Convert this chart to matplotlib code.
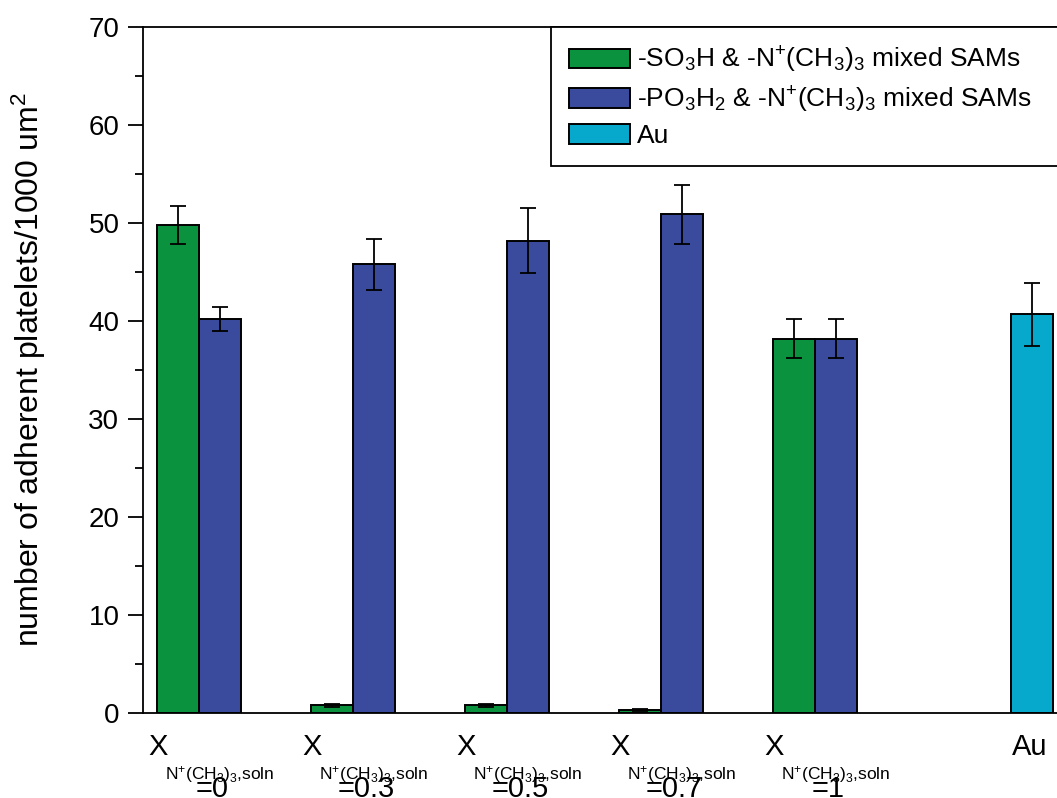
import matplotlib
matplotlib.use("Agg")
import matplotlib.pyplot as plt
import numpy as np

plt.rcParams['font.family'] = ['Liberation Sans', 'DejaVu Sans']
plt.rcParams['mathtext.fontset'] = 'custom'
plt.rcParams['mathtext.rm'] = 'Liberation Sans'
plt.rcParams['mathtext.it'] = 'Liberation Sans:italic'
plt.rcParams['mathtext.bf'] = 'Liberation Sans:bold'

# ---- data ----
x_values = ["=0", "=0.3", "=0.5", "=0.7", "=1"]
green_vals = [49.8, 0.8, 0.8, 0.35, 38.2]
green_err = [1.9, 0.15, 0.15, 0.1, 2.0]
blue_vals = [40.2, 45.8, 48.2, 50.9, 38.2]
blue_err = [1.2, 2.6, 3.3, 3.0, 2.0]
au_val = [40.7]
au_err = [3.2]
legend_labels = [r"-SO$_3$H & -N$^{+}$(CH$_3$)$_3$ mixed SAMs",
                 r"-PO$_3$H$_2$ & -N$^{+}$(CH$_3$)$_3$ mixed SAMs",
                 "Au"]
ylabel = r"number of adherent platelets/1000 um$^2$"

c_green = "#0a923f"
c_blue = "#3a4a9d"
c_au = "#06a9cc"

W, H = 1057, 798
fig = plt.figure(figsize=(W / 100, H / 100), dpi=100)
ax = fig.add_axes([143 / W, 85 / H, (1067 - 143) / W, 686 / H])

w = 42 / 154
xi = np.arange(len(x_values))
ekw = dict(ecolor="black", elinewidth=1.3, capsize=5.5, capthick=1.3)
ax.bar(xi - w, green_vals, w, yerr=green_err, color=c_green,
       edgecolor="black", linewidth=1.4, error_kw=ekw, label=legend_labels[0])
ax.bar(xi, blue_vals, w, yerr=blue_err, color=c_blue,
       edgecolor="black", linewidth=1.4, error_kw=ekw, label=legend_labels[1])
au_x = len(x_values) + w
ax.bar([au_x], au_val, w, yerr=au_err, color=c_au,
       edgecolor="black", linewidth=1.4, error_kw=ekw, label=legend_labels[2])

ax.set_xlim(-0.5, 5.5)
ax.set_ylim(0, 70)
ax.set_yticks(np.arange(0, 71, 10))
ax.set_yticks(np.arange(5, 70, 10), minor=True)
ax.tick_params(axis='y', which='major', direction='out', length=11, width=1.3,
               labelsize=20, pad=6)
ax.tick_params(axis='y', which='minor', direction='out', length=6, width=1.3)
ax.set_xticks([])
for s in ['left', 'bottom', 'top']:
    ax.spines[s].set_linewidth(1.3)
ax.spines['right'].set_visible(False)

ax.set_ylabel(ylabel, fontsize=23)
ax.yaxis.set_label_coords((48 - 143) / 924, 0.5)

# x category labels
trans = ax.get_xaxis_transform()
for i, v in enumerate(x_values):
    ax.annotate("X", xy=(i, 0), xycoords=trans, xytext=(-72, -42),
                textcoords='offset pixels', ha='left', va='baseline', fontsize=21)
    ax.annotate(r"N$^{+}$(CH$_3$)$_3$,soln", xy=(i, 0), xycoords=trans,
                xytext=(-55, -66), textcoords='offset pixels', ha='left',
                va='baseline', fontsize=12.5)
    ax.annotate(v, xy=(i, 0), xycoords=trans, xytext=(-8, -84),
                textcoords='offset pixels', ha='center', va='baseline', fontsize=21)
ax.annotate("Au", xy=(au_x, 0), xycoords=trans, xytext=(-2, -42),
            textcoords='offset pixels', ha='center', va='baseline', fontsize=21)

leg = ax.legend(loc='upper left',
                bbox_to_anchor=(551 / W, 1 - 27 / H, 600 / W, 0),
                bbox_transform=fig.transFigure, mode='expand', fontsize=19,
                frameon=True, fancybox=False, edgecolor='black', framealpha=1,
                handlelength=2.3, handleheight=0.76, handletextpad=0.27,
                labelspacing=0.35, borderpad=0.68, borderaxespad=0)
leg.get_frame().set_linewidth(1.3)

fig.savefig("out.png", dpi=100)
